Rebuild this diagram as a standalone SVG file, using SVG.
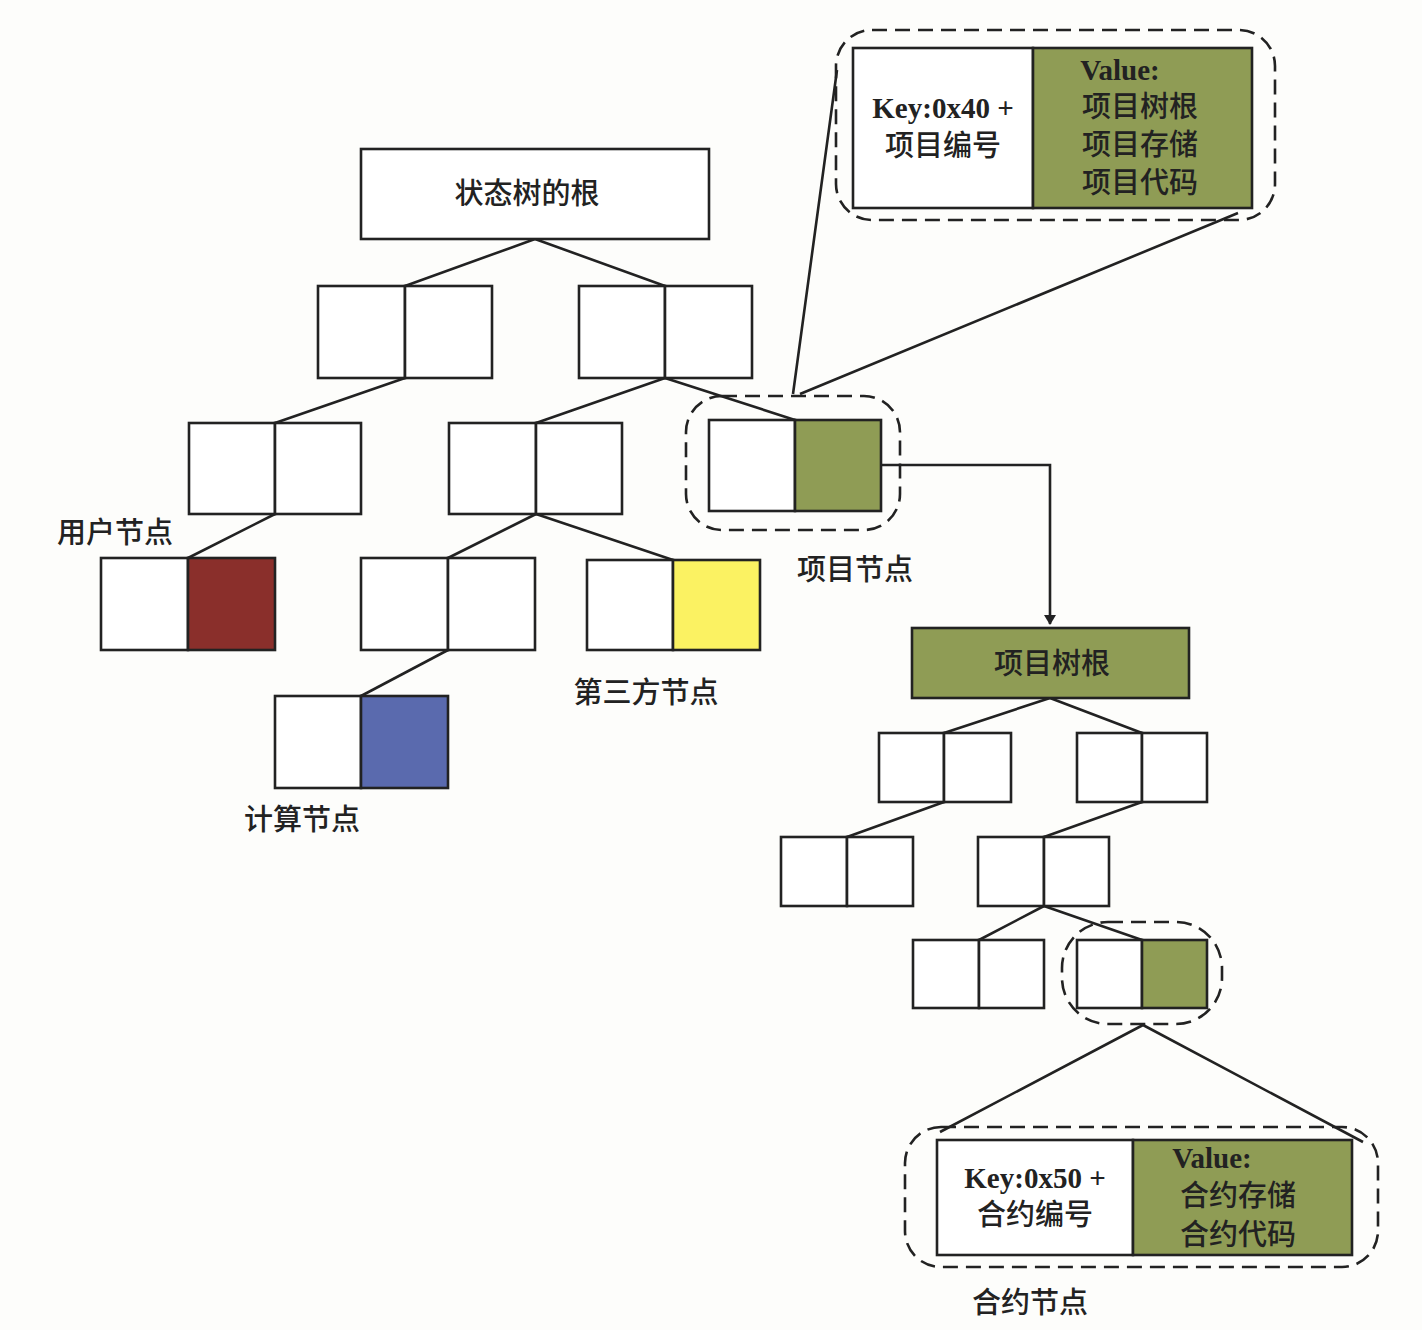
<svg xmlns="http://www.w3.org/2000/svg" width="1422" height="1330" viewBox="0 0 1422 1330">
<style>
.b{fill:#fff;stroke:#222;stroke-width:2.6}
.g{fill:#8f9c55;stroke:#222;stroke-width:2.6}
.r{fill:#8a2f2b;stroke:#222;stroke-width:2.6}
.bl{fill:#5a6aae;stroke:#222;stroke-width:2.6}
.y{fill:#fbf262;stroke:#222;stroke-width:2.6}
.d{fill:none;stroke:#222;stroke-width:2.6;stroke-dasharray:15 8}
.l{fill:none;stroke:#222;stroke-width:2.6}
text{font-family:"Liberation Serif","Noto Sans CJK SC",serif;font-size:29px;fill:#222;text-anchor:middle;font-weight:500}
.k{font-weight:bold}
</style>
<defs>
<marker id="ah" markerWidth="10" markerHeight="12" refX="9" refY="6" orient="auto" markerUnits="userSpaceOnUse">
<path d="M0,0 L10,6 L0,12 Z" fill="#222"/>
</marker>
</defs>
<rect width="1422" height="1330" fill="#fdfdfb"/>
<g id="connectors">
<path class="l" d="M535,239 L405,286 M535,239 L665,286"/>
<path class="l" d="M405,378 L275,423 M665,378 L536,423 M665,378 L795,420"/>
<path class="l" d="M275,514 L188,558 M536,514 L448,558 M536,514 L673,560"/>
<path class="l" d="M448,650 L361,696"/>
<path class="l" d="M793,394 L837,70 M800,394 L1238,213"/>
<path class="l" d="M881,465 L1050,465 L1050,624" marker-end="url(#ah)"/>
<path class="l" d="M1050,698 L944,733 M1050,698 L1142,733"/>
<path class="l" d="M944,802 L847,837 M1142,802 L1044,837"/>
<path class="l" d="M1044,906 L979,940 M1044,906 L1142,940"/>
<path class="l" d="M1143,1025 L940,1132 M1143,1025 L1363,1142"/>
</g>
<g id="root">
<rect class="b" x="361" y="149" width="348" height="90"/>
<text x="527" y="204">状态树的根</text>
</g>
<g id="n1a"><rect class="b" x="318" y="286" width="87" height="92"/><rect class="b" x="405" y="286" width="87" height="92"/></g>
<g id="n1b"><rect class="b" x="579" y="286" width="86" height="92"/><rect class="b" x="665" y="286" width="87" height="92"/></g>
<g id="n2a"><rect class="b" x="189" y="423" width="86" height="91"/><rect class="b" x="275" y="423" width="86" height="91"/></g>
<g id="n2b"><rect class="b" x="449" y="423" width="87" height="91"/><rect class="b" x="536" y="423" width="86" height="91"/></g>
<g id="project-node">
<rect class="d" x="686" y="396" width="214" height="134" rx="36"/>
<rect class="b" x="709" y="420" width="86" height="91"/><rect class="g" x="795" y="420" width="86" height="91"/>
<text x="855" y="580">项目节点</text>
</g>
<g id="user-node">
<rect class="b" x="101" y="558" width="87" height="92"/><rect class="r" x="188" y="558" width="87" height="92"/>
<text x="115" y="543">用户节点</text>
</g>
<g id="n3b"><rect class="b" x="361" y="558" width="87" height="92"/><rect class="b" x="448" y="558" width="87" height="92"/></g>
<g id="third-party-node">
<rect class="b" x="587" y="560" width="86" height="90"/><rect class="y" x="673" y="560" width="87" height="90"/>
<text x="646" y="703">第三方节点</text>
</g>
<g id="compute-node">
<rect class="b" x="275" y="696" width="86" height="92"/><rect class="bl" x="361" y="696" width="87" height="92"/>
<text x="302" y="830">计算节点</text>
</g>
<g id="project-detail">
<rect class="d" x="836" y="30" width="439" height="190" rx="36"/>
<rect class="b" x="853" y="48" width="180" height="160"/>
<rect class="g" x="1033" y="48" width="219" height="160"/>
<text class="k" x="943" y="118">Key:0x40 +</text>
<text x="943" y="156">项目编号</text>
<text class="k" x="1120" y="80">Value:</text>
<text x="1140" y="117">项目树根</text>
<text x="1140" y="155">项目存储</text>
<text x="1140" y="193">项目代码</text>
</g>
<g id="project-root">
<rect class="g" x="912" y="628" width="277" height="70"/>
<text x="1052" y="674">项目树根</text>
</g>
<g id="p1a"><rect class="b" x="879" y="733" width="65" height="69"/><rect class="b" x="944" y="733" width="67" height="69"/></g>
<g id="p1b"><rect class="b" x="1077" y="733" width="65" height="69"/><rect class="b" x="1142" y="733" width="65" height="69"/></g>
<g id="p2a"><rect class="b" x="781" y="837" width="66" height="69"/><rect class="b" x="847" y="837" width="66" height="69"/></g>
<g id="p2b"><rect class="b" x="978" y="837" width="66" height="69"/><rect class="b" x="1044" y="837" width="65" height="69"/></g>
<g id="p3a"><rect class="b" x="913" y="940" width="66" height="68"/><rect class="b" x="979" y="940" width="65" height="68"/></g>
<g id="contract-leaf">
<rect class="d" x="1062" y="922" width="160" height="102" rx="46"/>
<rect class="b" x="1077" y="940" width="65" height="68"/><rect class="g" x="1142" y="940" width="65" height="68"/>
</g>
<g id="contract-detail">
<rect class="d" x="905" y="1127" width="473" height="140" rx="36"/>
<rect class="b" x="937" y="1140" width="196" height="115"/>
<rect class="g" x="1133" y="1140" width="219" height="115"/>
<text class="k" x="1035" y="1188">Key:0x50 +</text>
<text x="1035" y="1225">合约编号</text>
<text class="k" x="1212" y="1168">Value:</text>
<text x="1238" y="1206">合约存储</text>
<text x="1238" y="1245">合约代码</text>
<text x="1030" y="1313">合约节点</text>
</g>
</svg>
